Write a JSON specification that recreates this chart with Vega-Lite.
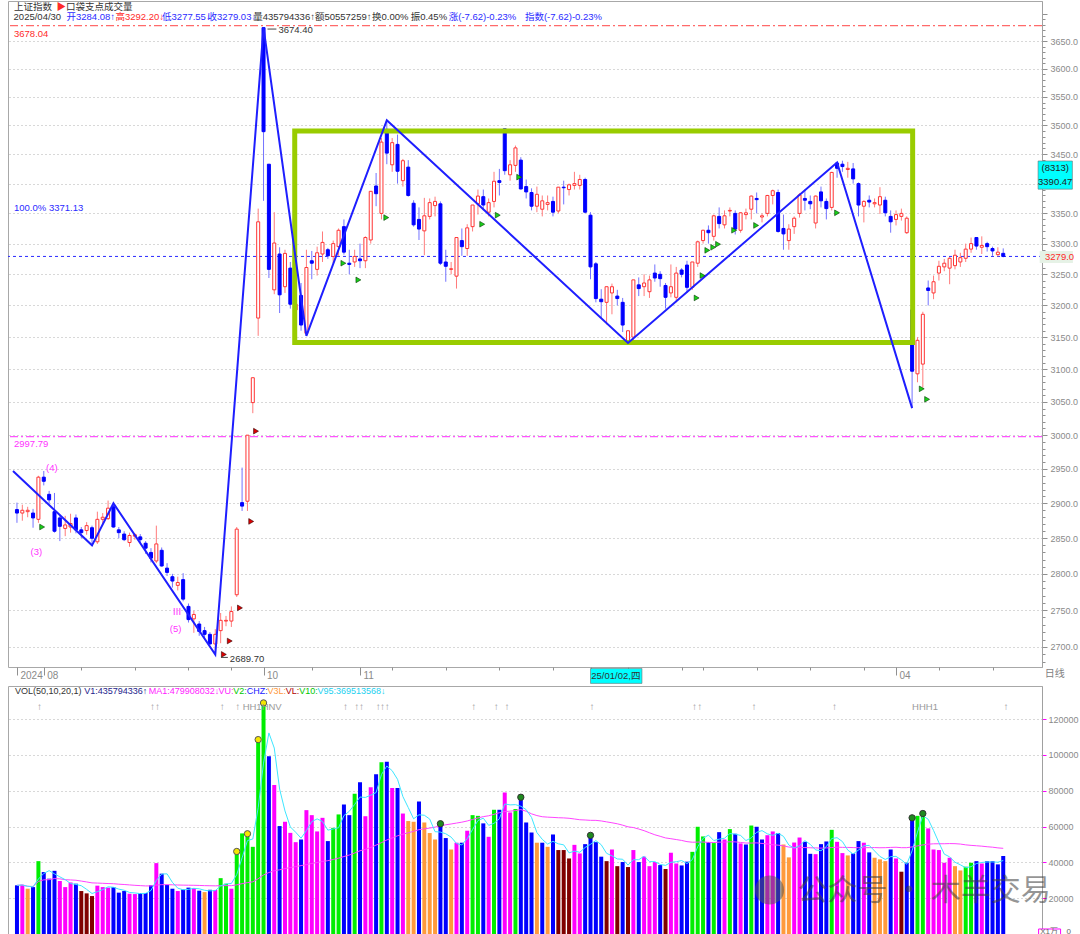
{
"$schema": "https://vega.github.io/schema/vega-lite/v6.json",
"padding": {"left": 6, "top": 0, "right": 0, "bottom": 0},
"background": "white",
"spacing": 0,
"config": {
  "view": {"stroke": "#a8a8a8", "strokeWidth": 1},
  "axis": {"title": null, "labelFont": "Liberation Sans", "labelFontSize": 9, "labelColor": "#8a8a8a", "domainColor": "#a0a0a0", "tickColor": "#909090"},
  "text": {"font": "'Liberation Sans', 'Noto Sans CJK SC'", "fontSize": 9.5, "align": "left", "baseline": "middle"}
},
"datasets": {
"c": [
{"i":0,"o":2891,"h":2901,"l":2872,"c":2886,"v":27200,"k":"b"},
{"i":1,"o":2886,"h":2898,"l":2875,"c":2890,"v":27500,"k":"m"},
{"i":2,"o":2888,"h":2895,"l":2880,"c":2890,"v":25300,"k":"o"},
{"i":3,"o":2886,"h":2892,"l":2865,"c":2879,"v":26200,"k":"b"},
{"i":4,"o":2877,"h":2940,"l":2872,"c":2938,"v":40700,"k":"g"},
{"i":5,"o":2938,"h":2947,"l":2926,"c":2932,"v":34600,"k":"b"},
{"i":6,"o":2913,"h":2918,"l":2900,"c":2905,"v":30900,"k":"b"},
{"i":7,"o":2888,"h":2915,"l":2858,"c":2860,"v":35300,"k":"b"},
{"i":8,"o":2879,"h":2884,"l":2846,"c":2867,"v":29600,"k":"m"},
{"i":9,"o":2864,"h":2882,"l":2853,"c":2869,"v":26200,"k":"m"},
{"i":10,"o":2866,"h":2885,"l":2858,"c":2871,"v":28800,"k":"m"},
{"i":11,"o":2879,"h":2884,"l":2857,"c":2862,"v":28100,"k":"b"},
{"i":12,"o":2862,"h":2866,"l":2850,"c":2858,"v":24000,"k":"r"},
{"i":13,"o":2861,"h":2873,"l":2855,"c":2868,"v":22700,"k":"r"},
{"i":14,"o":2865,"h":2868,"l":2840,"c":2850,"v":21200,"k":"r"},
{"i":15,"o":2845,"h":2888,"l":2842,"c":2877,"v":27000,"k":"m"},
{"i":16,"o":2877,"h":2886,"l":2870,"c":2880,"v":26200,"k":"m"},
{"i":17,"o":2878,"h":2904,"l":2876,"c":2893,"v":25900,"k":"m"},
{"i":18,"o":2895,"h":2900,"l":2865,"c":2866,"v":26200,"k":"b"},
{"i":19,"o":2862,"h":2866,"l":2850,"c":2858,"v":23100,"k":"b"},
{"i":20,"o":2856,"h":2860,"l":2846,"c":2848,"v":24000,"k":"b"},
{"i":21,"o":2844,"h":2858,"l":2838,"c":2854,"v":22500,"k":"m"},
{"i":22,"o":2853,"h":2857,"l":2848,"c":2855,"v":22300,"k":"m"},
{"i":23,"o":2852,"h":2856,"l":2843,"c":2848,"v":22900,"k":"b"},
{"i":24,"o":2843,"h":2846,"l":2828,"c":2836,"v":22900,"k":"b"},
{"i":25,"o":2830,"h":2836,"l":2816,"c":2822,"v":27200,"k":"b"},
{"i":26,"o":2818,"h":2868,"l":2815,"c":2842,"v":39600,"k":"m"},
{"i":27,"o":2833,"h":2837,"l":2810,"c":2811,"v":33700,"k":"b"},
{"i":28,"o":2808,"h":2815,"l":2797,"c":2802,"v":27500,"k":"b"},
{"i":29,"o":2796,"h":2800,"l":2781,"c":2790,"v":25300,"k":"b"},
{"i":30,"o":2784,"h":2796,"l":2777,"c":2788,"v":24000,"k":"m"},
{"i":31,"o":2792,"h":2801,"l":2762,"c":2765,"v":24900,"k":"b"},
{"i":32,"o":2755,"h":2759,"l":2733,"c":2737,"v":25900,"k":"b"},
{"i":33,"o":2738,"h":2749,"l":2719,"c":2744,"v":25700,"k":"m"},
{"i":34,"o":2731,"h":2735,"l":2715,"c":2721,"v":24200,"k":"b"},
{"i":35,"o":2722,"h":2727,"l":2711,"c":2717,"v":23400,"k":"o"},
{"i":36,"o":2717,"h":2720,"l":2703,"c":2704,"v":24700,"k":"b"},
{"i":37,"o":2704,"h":2724,"l":2689.7,"c":2717,"v":24600,"k":"m"},
{"i":38,"o":2722,"h":2746,"l":2705,"c":2736,"v":31200,"k":"g"},
{"i":39,"o":2735,"h":2742,"l":2728,"c":2736,"v":28100,"k":"g"},
{"i":40,"o":2735,"h":2755,"l":2727,"c":2748,"v":25300,"k":"m"},
{"i":41,"o":2771,"h":2866,"l":2768,"c":2863,"v":46100,"k":"g"},
{"i":42,"o":2901,"h":2952,"l":2889,"c":2896,"v":56200,"k":"g"},
{"i":43,"o":2903,"h":3000,"l":2889,"c":3000,"v":54300,"k":"g"},
{"i":44,"o":3049,"h":3087,"l":3033,"c":3087,"v":48700,"k":"g"},
{"i":45,"o":3180,"h":3358,"l":3152,"c":3336,"v":108600,"k":"g"},
{"i":46,"o":3674.4,"h":3674.4,"l":3371,"c":3489,"v":129100,"k":"g"},
{"i":47,"o":3433,"h":3433,"l":3244,"c":3258,"v":99300,"k":"b"},
{"i":48,"o":3225,"h":3352,"l":3218,"c":3301,"v":83300,"k":"m"},
{"i":49,"o":3283,"h":3294,"l":3188,"c":3217,"v":60300,"k":"b"},
{"i":50,"o":3230,"h":3290,"l":3220,"c":3284,"v":62700,"k":"m"},
{"i":51,"o":3260,"h":3270,"l":3195,"c":3202,"v":56500,"k":"m"},
{"i":52,"o":3193,"h":3223,"l":3181,"c":3202,"v":51300,"k":"m"},
{"i":53,"o":3216,"h":3236,"l":3160,"c":3169,"v":52800,"k":"b"},
{"i":54,"o":3156,"h":3290,"l":3152,"c":3261,"v":69200,"k":"m"},
{"i":55,"o":3272,"h":3288,"l":3242,"c":3268,"v":66400,"k":"m"},
{"i":56,"o":3258,"h":3295,"l":3248,"c":3285,"v":57300,"k":"m"},
{"i":57,"o":3283,"h":3320,"l":3270,"c":3302,"v":64900,"k":"m"},
{"i":58,"o":3290,"h":3293,"l":3275,"c":3280,"v":51900,"k":"b"},
{"i":59,"o":3279,"h":3305,"l":3268,"c":3300,"v":59300,"k":"g"},
{"i":60,"o":3295,"h":3325,"l":3280,"c":3322,"v":66800,"k":"g"},
{"i":61,"o":3328,"h":3340,"l":3282,"c":3286,"v":72400,"k":"b"},
{"i":62,"o":3268,"h":3290,"l":3250,"c":3266,"v":66400,"k":"b"},
{"i":63,"o":3270,"h":3290,"l":3262,"c":3279,"v":78300,"k":"g"},
{"i":64,"o":3275,"h":3300,"l":3260,"c":3272,"v":84800,"k":"b"},
{"i":65,"o":3272,"h":3312,"l":3260,"c":3310,"v":65800,"k":"m"},
{"i":66,"o":3306,"h":3387,"l":3300,"c":3387,"v":82000,"k":"m"},
{"i":67,"o":3396,"h":3418,"l":3362,"c":3383,"v":89300,"k":"b"},
{"i":68,"o":3350,"h":3478,"l":3340,"c":3471,"v":96000,"k":"g"},
{"i":69,"o":3493,"h":3509,"l":3433,"c":3452,"v":96200,"k":"b"},
{"i":70,"o":3432,"h":3478,"l":3420,"c":3470,"v":81500,"k":"m"},
{"i":71,"o":3467,"h":3484,"l":3400,"c":3421,"v":81500,"k":"b"},
{"i":72,"o":3405,"h":3442,"l":3395,"c":3439,"v":67300,"k":"m"},
{"i":73,"o":3428,"h":3440,"l":3378,"c":3380,"v":63100,"k":"o"},
{"i":74,"o":3367,"h":3372,"l":3328,"c":3331,"v":62700,"k":"o"},
{"i":75,"o":3340,"h":3360,"l":3306,"c":3324,"v":74000,"k":"b"},
{"i":76,"o":3321,"h":3376,"l":3281,"c":3346,"v":62300,"k":"o"},
{"i":77,"o":3345,"h":3375,"l":3340,"c":3368,"v":56400,"k":"o"},
{"i":78,"o":3363,"h":3378,"l":3345,"c":3370,"v":52800,"k":"o"},
{"i":79,"o":3366,"h":3370,"l":3265,"c":3268,"v":61600,"k":"b"},
{"i":80,"o":3270,"h":3290,"l":3238,"c":3263,"v":53600,"k":"b"},
{"i":81,"o":3258,"h":3270,"l":3250,"c":3259,"v":47200,"k":"o"},
{"i":82,"o":3247,"h":3310,"l":3227,"c":3310,"v":51000,"k":"m"},
{"i":83,"o":3305,"h":3325,"l":3280,"c":3295,"v":51000,"k":"b"},
{"i":84,"o":3292,"h":3332,"l":3280,"c":3326,"v":57700,"k":"m"},
{"i":85,"o":3328,"h":3364,"l":3320,"c":3364,"v":66400,"k":"g"},
{"i":86,"o":3366,"h":3390,"l":3348,"c":3379,"v":66000,"k":"g"},
{"i":87,"o":3378,"h":3390,"l":3355,"c":3364,"v":61800,"k":"b"},
{"i":88,"o":3352,"h":3375,"l":3345,"c":3368,"v":54300,"k":"m"},
{"i":89,"o":3370,"h":3420,"l":3360,"c":3404,"v":69400,"k":"g"},
{"i":90,"o":3405,"h":3425,"l":3380,"c":3402,"v":69400,"k":"b"},
{"i":91,"o":3494,"h":3494,"l":3415,"c":3422,"v":79100,"k":"m"},
{"i":92,"o":3415,"h":3440,"l":3405,"c":3432,"v":67900,"k":"m"},
{"i":93,"o":3431,"h":3465,"l":3420,"c":3461,"v":69800,"k":"g"},
{"i":94,"o":3440,"h":3445,"l":3390,"c":3391,"v":76400,"k":"b"},
{"i":95,"o":3395,"h":3407,"l":3375,"c":3386,"v":62300,"k":"b"},
{"i":96,"o":3385,"h":3392,"l":3355,"c":3362,"v":56700,"k":"b"},
{"i":97,"o":3362,"h":3395,"l":3352,"c":3382,"v":51000,"k":"o"},
{"i":98,"o":3357,"h":3380,"l":3345,"c":3371,"v":51000,"k":"b"},
{"i":99,"o":3365,"h":3380,"l":3355,"c":3368,"v":48700,"k":"o"},
{"i":100,"o":3370,"h":3378,"l":3345,"c":3352,"v":55600,"k":"b"},
{"i":101,"o":3354,"h":3394,"l":3350,"c":3394,"v":46900,"k":"r"},
{"i":102,"o":3394,"h":3405,"l":3365,"c":3393,"v":46900,"k":"r"},
{"i":103,"o":3390,"h":3400,"l":3380,"c":3398,"v":42200,"k":"r"},
{"i":104,"o":3397,"h":3420,"l":3390,"c":3400,"v":49800,"k":"m"},
{"i":105,"o":3397,"h":3415,"l":3390,"c":3407,"v":45000,"k":"m"},
{"i":106,"o":3407,"h":3410,"l":3350,"c":3352,"v":50200,"k":"b"},
{"i":107,"o":3347,"h":3352,"l":3242,"c":3262,"v":55100,"k":"b"},
{"i":108,"o":3267,"h":3270,"l":3205,"c":3211,"v":51300,"k":"b"},
{"i":109,"o":3210,"h":3226,"l":3180,"c":3206,"v":43200,"k":"b"},
{"i":110,"o":3205,"h":3230,"l":3170,"c":3230,"v":40700,"k":"r"},
{"i":111,"o":3220,"h":3235,"l":3186,"c":3230,"v":47200,"k":"m"},
{"i":112,"o":3215,"h":3225,"l":3200,"c":3211,"v":37900,"k":"r"},
{"i":113,"o":3205,"h":3212,"l":3158,"c":3169,"v":40200,"k":"b"},
{"i":114,"o":3141,"h":3160,"l":3140.98,"c":3160,"v":37400,"k":"r"},
{"i":115,"o":3150,"h":3241,"l":3145,"c":3241,"v":46900,"k":"m"},
{"i":116,"o":3233,"h":3245,"l":3215,"c":3227,"v":40200,"k":"b"},
{"i":117,"o":3230,"h":3250,"l":3215,"c":3236,"v":43200,"k":"m"},
{"i":118,"o":3222,"h":3248,"l":3212,"c":3241,"v":37900,"k":"m"},
{"i":119,"o":3252,"h":3266,"l":3238,"c":3244,"v":40200,"k":"m"},
{"i":120,"o":3250,"h":3255,"l":3230,"c":3243,"v":38500,"k":"b"},
{"i":121,"o":3232,"h":3236,"l":3195,"c":3213,"v":36300,"k":"r"},
{"i":122,"o":3220,"h":3266,"l":3213,"c":3230,"v":45400,"k":"m"},
{"i":123,"o":3213,"h":3262,"l":3205,"c":3252,"v":39400,"k":"m"},
{"i":124,"o":3257,"h":3260,"l":3245,"c":3250,"v":38300,"k":"b"},
{"i":125,"o":3265,"h":3272,"l":3220,"c":3229,"v":40400,"k":"b"},
{"i":126,"o":3229,"h":3270,"l":3225,"c":3270,"v":45900,"k":"g"},
{"i":127,"o":3268,"h":3305,"l":3262,"c":3303,"v":59900,"k":"g"},
{"i":128,"o":3305,"h":3323,"l":3300,"c":3322,"v":54500,"k":"g"},
{"i":129,"o":3322,"h":3330,"l":3300,"c":3318,"v":51300,"k":"b"},
{"i":130,"o":3312,"h":3348,"l":3305,"c":3346,"v":50800,"k":"g"},
{"i":131,"o":3345,"h":3360,"l":3325,"c":3333,"v":56900,"k":"b"},
{"i":132,"o":3331,"h":3355,"l":3325,"c":3346,"v":52800,"k":"m"},
{"i":133,"o":3354,"h":3360,"l":3345,"c":3355,"v":58600,"k":"g"},
{"i":134,"o":3350,"h":3355,"l":3315,"c":3324,"v":56000,"k":"b"},
{"i":135,"o":3322,"h":3352,"l":3318,"c":3351,"v":50600,"k":"m"},
{"i":136,"o":3348,"h":3358,"l":3340,"c":3351,"v":50000,"k":"b"},
{"i":137,"o":3357,"h":3380,"l":3340,"c":3379,"v":60600,"k":"g"},
{"i":138,"o":3375,"h":3385,"l":3350,"c":3373,"v":59900,"k":"b"},
{"i":139,"o":3344,"h":3350,"l":3335,"c":3346,"v":52800,"k":"b"},
{"i":140,"o":3350,"h":3381,"l":3345,"c":3380,"v":55200,"k":"m"},
{"i":141,"o":3380,"h":3390,"l":3365,"c":3388,"v":57300,"k":"m"},
{"i":142,"o":3385,"h":3390,"l":3318,"c":3320,"v":56400,"k":"b"},
{"i":143,"o":3325,"h":3348,"l":3290,"c":3316,"v":50000,"k":"o"},
{"i":144,"o":3305,"h":3332,"l":3290,"c":3324,"v":42800,"k":"o"},
{"i":145,"o":3328,"h":3345,"l":3316,"c":3342,"v":51100,"k":"m"},
{"i":146,"o":3350,"h":3384,"l":3343,"c":3381,"v":53900,"k":"m"},
{"i":147,"o":3375,"h":3390,"l":3355,"c":3372,"v":51500,"k":"b"},
{"i":148,"o":3370,"h":3380,"l":3357,"c":3366,"v":44800,"k":"b"},
{"i":149,"o":3334,"h":3380,"l":3325,"c":3379,"v":44600,"k":"m"},
{"i":150,"o":3386,"h":3395,"l":3360,"c":3371,"v":50200,"k":"b"},
{"i":151,"o":3370,"h":3375,"l":3340,"c":3358,"v":51700,"k":"b"},
{"i":152,"o":3360,"h":3420,"l":3355,"c":3419,"v":58200,"k":"g"},
{"i":153,"o":3435,"h":3436,"l":3410,"c":3426,"v":51500,"k":"m"},
{"i":154,"o":3433,"h":3439,"l":3420,"c":3429,"v":45200,"k":"m"},
{"i":155,"o":3424,"h":3437,"l":3410,"c":3426,"v":43900,"k":"o"},
{"i":156,"o":3425,"h":3435,"l":3400,"c":3408,"v":45000,"k":"b"},
{"i":157,"o":3400,"h":3402,"l":3345,"c":3364,"v":51900,"k":"b"},
{"i":158,"o":3362,"h":3372,"l":3335,"c":3370,"v":51000,"k":"m"},
{"i":159,"o":3372,"h":3380,"l":3360,"c":3369,"v":45600,"k":"b"},
{"i":160,"o":3366,"h":3375,"l":3360,"c":3368,"v":42600,"k":"o"},
{"i":161,"o":3364,"h":3394,"l":3349,"c":3378,"v":41700,"k":"o"},
{"i":162,"o":3372,"h":3378,"l":3345,"c":3351,"v":40700,"k":"o"},
{"i":163,"o":3345,"h":3355,"l":3318,"c":3336,"v":47200,"k":"b"},
{"i":164,"o":3340,"h":3355,"l":3330,"c":3348,"v":42200,"k":"m"},
{"i":165,"o":3345,"h":3358,"l":3338,"c":3350,"v":34800,"k":"r"},
{"i":166,"o":3318,"h":3345,"l":3316,"c":3342,"v":39800,"k":"b"},
{"i":167,"o":3193,"h":3193,"l":3040.69,"c":3097,"v":64900,"k":"b"},
{"i":168,"o":3093,"h":3150,"l":3080,"c":3145,"v":66000,"k":"g"},
{"i":169,"o":3108,"h":3190,"l":3072,"c":3186,"v":67300,"k":"g"},
{"i":170,"o":3228,"h":3240,"l":3200,"c":3224,"v":59000,"k":"m"},
{"i":171,"o":3220,"h":3248,"l":3210,"c":3238,"v":47200,"k":"m"},
{"i":172,"o":3252,"h":3272,"l":3240,"c":3263,"v":46900,"k":"m"},
{"i":173,"o":3262,"h":3275,"l":3255,"c":3268,"v":39800,"k":"m"},
{"i":174,"o":3260,"h":3278,"l":3234,"c":3276,"v":42600,"k":"m"},
{"i":175,"o":3264,"h":3290,"l":3258,"c":3281,"v":37900,"k":"o"},
{"i":176,"o":3270,"h":3285,"l":3262,"c":3277,"v":35500,"k":"o"},
{"i":177,"o":3276,"h":3300,"l":3270,"c":3291,"v":37600,"k":"g"},
{"i":178,"o":3291,"h":3310,"l":3285,"c":3300,"v":39800,"k":"g"},
{"i":179,"o":3310,"h":3310,"l":3290,"c":3296,"v":40700,"k":"b"},
{"i":180,"o":3294,"h":3312,"l":3283,"c":3297,"v":39400,"k":"m"},
{"i":181,"o":3300,"h":3303,"l":3287,"c":3295,"v":40700,"k":"b"},
{"i":182,"o":3292,"h":3295,"l":3280,"c":3288,"v":40700,"k":"b"},
{"i":183,"o":3282,"h":3294,"l":3279,"c":3286,"v":38900,"k":"b"},
{"i":184,"o":3284.08,"h":3292.2,"l":3277.55,"c":3279.03,"v":43580,"k":"b"}
]
},
"resolve": {"scale": {"x": "independent", "y": "independent", "color": "independent"}, "axis": {"x": "independent", "y": "independent"}},
"vconcat": [
{
 "width": 1034, "height": 666,
 "layer": [
  {"data": {"values": [{"p": 3678.04}]}, "mark": {"type": "rule", "color": "#ff6a6a", "strokeWidth": 1.2, "strokeDash": [8, 3, 2, 3]}, "encoding": {"y": {"field": "p", "type": "quantitative"}}},
  {"data": {"values": [{"p": 2997.79}]}, "mark": {"type": "rule", "color": "#ff55ff", "strokeWidth": 1.2, "strokeDash": [8, 3, 2, 3]}, "encoding": {"y": {"field": "p", "type": "quantitative"}}},
  {"data": {"values": [{"p": 3279.03}]}, "mark": {"type": "rule", "color": "#2a2aff", "strokeWidth": 1, "strokeDash": [3, 3]}, "encoding": {"y": {"field": "p", "type": "quantitative"}}},
  {"data": {"name": "c"},
   "mark": {"type": "rule", "strokeWidth": 1},
   "encoding": {
    "x": {"field": "i", "type": "quantitative", "scale": {"domain": [-0.74, 190.3], "nice": false, "zero": false},
      "axis": {"orient": "bottom", "grid": false, "domain": false,
        "values": [0,3,5,7,12,17,22,27,32,37,40,45,46,50,55,60,64,65,70,75,80,85,90,95,100,105,107,109,114,119,124,125,128,133,138,143,148,153,158,163,164,167,172,177,182,185],
        "labelExpr": "datum.value === 0 ? '2024' : datum.value === 5 ? '08' : datum.value === 27 ? '09' : datum.value === 46 ? '10' : datum.value === 64 ? '11' : datum.value === 85 ? '12' : datum.value === 125 ? '02' : datum.value === 143 ? '03' : datum.value === 164 ? '04' : datum.value === 185 ? '05' : ''",
        "tickSize": {"condition": {"test": "indexof([0,5,27,46,64,85,107,125,143,164,185], datum.value) >= 0", "value": 8}, "value": 3},
        "labelAlign": "left", "labelBaseline": "middle", "labelPadding": 0, "labelOffset": 3, "labelOverlap": false, "labelFlush": false,
        "labelColor": "#8a8a8a", "labelFontSize": 10, "minExtent": 17, "maxExtent": 17, "title": null}},
    "y": {"field": "l", "type": "quantitative", "scale": {"type": "log", "domain": [2673.2, 3723.4], "nice": false, "zero": false},
      "axis": {"orient": "right", "title": null,
        "values": [2680,2690,2700,2710,2720,2730,2740,2750,2760,2770,2780,2790,2800,2810,2820,2830,2840,2850,2860,2870,2880,2890,2900,2910,2920,2930,2940,2950,2960,2970,2980,2990,3000,3010,3020,3030,3040,3050,3060,3070,3080,3090,3100,3110,3120,3130,3140,3150,3160,3170,3180,3190,3200,3210,3220,3230,3240,3250,3260,3270,3280,3290,3300,3310,3320,3330,3340,3350,3360,3370,3380,3390,3400,3410,3420,3430,3440,3450,3460,3470,3480,3490,3500,3510,3520,3530,3540,3550,3560,3570,3580,3590,3600,3610,3620,3630,3640,3650,3660,3670,3680,3690,3700],
        "labelExpr": "datum.value % 50 === 0 && datum.value <= 3650 && datum.value !== 3400 ? format(datum.value, '.1f') : ''",
        "tickSize": {"condition": {"test": "datum.value % 50 === 0", "value": 5}, "value": 3},
        "grid": true, "gridColor": "#b0b0b0", "gridDash": [1, 3],
        "gridOpacity": {"condition": {"test": "datum.value % 50 === 0 && datum.value <= 3650", "value": 1}, "value": 0},
        "labelPadding": 3, "labelOverlap": false, "labelFlush": false, "labelBaseline": "middle", "labelColor": "#8a8a8a", "labelFontSize": 9}},
    "y2": {"field": "h"},
    "color": {"condition": {"test": "datum.c >= datum.o", "value": "#ff7b7b"}, "value": "#7373ff"}
   }},
  {"data": {"name": "c"},
   "mark": {"type": "bar", "size": 3, "strokeWidth": 1},
   "encoding": {
    "x": {"field": "i", "type": "quantitative"},
    "y": {"field": "o", "type": "quantitative"},
    "y2": {"field": "c"},
    "fill": {"condition": {"test": "datum.c >= datum.o", "value": "#ffffff"}, "value": "#0000ff"},
    "stroke": {"condition": {"test": "datum.c >= datum.o", "value": "#ff3434"}, "value": "#0000ff"}
   }},
  {"data": {"values": [{"i": 51.82, "i2": 167.1, "p": 3141.5, "p2": 3490}]},
   "mark": {"type": "rect", "fillOpacity": 0, "stroke": "#99cc00", "strokeWidth": 5},
   "encoding": {"x": {"field": "i", "type": "quantitative"}, "x2": {"field": "i2"}, "y": {"field": "p", "type": "quantitative"}, "y2": {"field": "p2"}}},
  {"data": {"values": [
    {"i": -0.74, "p": 2947}, {"i": 14, "p": 2840}, {"i": 18, "p": 2900}, {"i": 37, "p": 2689.7}, {"i": 46, "p": 3674.4},
    {"i": 54, "p": 3152}, {"i": 69, "p": 3509}, {"i": 114, "p": 3140.98}, {"i": 153, "p": 3436}, {"i": 167, "p": 3040.69}]},
   "mark": {"type": "line", "color": "#1e1eff", "strokeWidth": 2},
   "encoding": {"x": {"field": "i", "type": "quantitative"}, "y": {"field": "p", "type": "quantitative"}}},
  {"data": {"values": [
    {"i": 4.7, "p": 2866}, {"i": 60.9, "p": 3268}, {"i": 63.7, "p": 3241}, {"i": 68.9, "p": 3343}, {"i": 86.8, "p": 3332},
    {"i": 89.7, "p": 3347}, {"i": 93.7, "p": 3411}, {"i": 126.8, "p": 3212}, {"i": 127.9, "p": 3248}, {"i": 128.8, "p": 3289},
    {"i": 129.9, "p": 3294}, {"i": 130.8, "p": 3299}, {"i": 133.8, "p": 3322}, {"i": 137.9, "p": 3330}, {"i": 153, "p": 3351},
    {"i": 168.8, "p": 3070}, {"i": 169.8, "p": 3054}]},
   "mark": {"type": "point", "shape": "triangle-right", "size": 32, "filled": true, "fill": "#18d018", "stroke": "#063806", "strokeWidth": 0.6, "opacity": 1},
   "encoding": {"x": {"field": "i", "type": "quantitative"}, "y": {"field": "p", "type": "quantitative"}}},
  {"data": {"values": [
    {"i": 38.6, "p": 2690}, {"i": 39.7, "p": 2708}, {"i": 41.6, "p": 2753}, {"i": 43.7, "p": 2874}, {"i": 44.6, "p": 3006}]},
   "mark": {"type": "point", "shape": "triangle-right", "size": 32, "filled": true, "fill": "#e00000", "stroke": "#300000", "strokeWidth": 0.6, "opacity": 1},
   "encoding": {"x": {"field": "i", "type": "quantitative"}, "y": {"field": "p", "type": "quantitative"}}},
  {"data": {"values": [{"i": 46.74, "i2": 48.4, "p": 3671.8}, {"i": 38.06, "i2": 39.35, "p": 2686}]},
   "mark": {"type": "rule", "color": "#444444", "strokeWidth": 1},
   "encoding": {"x": {"field": "i", "type": "quantitative"}, "x2": {"field": "i2"}, "y": {"field": "p", "type": "quantitative"}}},
  {"data": {"values": [{"i": 190.8, "i2": 197.0, "p": 3288, "p2": 3268.4}]},
   "mark": {"type": "rect", "fill": "#e6f2e6"},
   "encoding": {"x": {"field": "i", "type": "quantitative"}, "x2": {"field": "i2"}, "y": {"field": "p", "type": "quantitative"}, "y2": {"field": "p2"}}},
  {"data": {"values": [{"i": 190.5, "i2": 196.9, "p": 3438.5, "p2": 3390.6}, {"i": 107, "i2": 116.6, "p": 2671.3, "p2": 2651.5}]},
   "mark": {"type": "rect", "fill": "#00ffff", "stroke": "#707070", "strokeWidth": 0.6},
   "encoding": {"x": {"field": "i", "type": "quantitative"}, "x2": {"field": "i2"}, "y": {"field": "p", "type": "quantitative"}, "y2": {"field": "p2"}}},
  {"data": {"values": [
    {"i": -0.55, "p": 3712.3, "t": "上证指数"}, {"i": 9.14, "p": 3712.3, "t": "口袋支点成交量"},
    {"i": -0.63, "p": 3693.8, "t": "2025/04/30"}, {"i": 44.06, "p": 3693.8, "t": "量435794336↑额50557259↑"},
    {"i": 66.23, "p": 3693.8, "t": "换0.00%"}, {"i": 73.45, "p": 3693.8, "t": "振0.45%"},
    {"i": 48.77, "p": 3670, "t": "3674.40"}, {"i": 39.72, "p": 2683.9, "t": "2689.70"},
    {"i": 107.15, "p": 2661.4, "t": "25/01/02,四"}]},
   "mark": {"type": "text", "color": "#333333"},
   "encoding": {"x": {"field": "i", "type": "quantitative"}, "y": {"field": "p", "type": "quantitative"}, "text": {"field": "t"}}},
  {"data": {"values": [
    {"i": 9.24, "p": 3693.8, "t": "开3284.08↑"}, {"i": 27.07, "p": 3693.8, "t": "低3277.55↓"}, {"i": 35.56, "p": 3693.8, "t": "收3279.03↓"},
    {"i": 80.55, "p": 3693.8, "t": "涨(-7.62)-0.23%"}, {"i": 94.77, "p": 3693.8, "t": "指数(-7.62)-0.23%"},
    {"i": -0.55, "p": 3359, "t": "100.0%  3371.13"}]},
   "mark": {"type": "text", "color": "#2b2bff"},
   "encoding": {"x": {"field": "i", "type": "quantitative"}, "y": {"field": "p", "type": "quantitative"}, "text": {"field": "t"}}},
  {"data": {"values": [
    {"i": 18.38, "p": 3693.8, "t": "高3292.20↓"}, {"i": 7.39, "p": 3712.3, "t": "▶"},
    {"i": -0.55, "p": 3662.7, "t": "3678.04"}, {"i": 191.8, "p": 3278.2, "t": "3279.0"}]},
   "mark": {"type": "text", "color": "#ff2a2a"},
   "encoding": {"x": {"field": "i", "type": "quantitative"}, "y": {"field": "p", "type": "quantitative"}, "text": {"field": "t"}}},
  {"data": {"values": [
    {"i": -0.55, "p": 2986.7, "t": "2997.79"}, {"i": 5.41, "p": 2952, "t": "(4)"}, {"i": 2.53, "p": 2830, "t": "(3)"},
    {"i": 28.97, "p": 2748, "t": "Ⅲ"}, {"i": 28.5, "p": 2724, "t": "(5)"}]},
   "mark": {"type": "text", "color": "#ff33ff"},
   "encoding": {"x": {"field": "i", "type": "quantitative"}, "y": {"field": "p", "type": "quantitative"}, "text": {"field": "t"}}},
  {"data": {"values": [{"i": 193.6, "p": 2663.4, "t": "日线"}]},
   "mark": {"type": "text", "color": "#808080", "align": "center", "fontSize": 10},
   "encoding": {"x": {"field": "i", "type": "quantitative"}, "y": {"field": "p", "type": "quantitative"}, "text": {"field": "t"}}},
  {"data": {"values": [{"i": 193.7, "p": 3426.2, "t": "(8313)"}, {"i": 193.7, "p": 3402.6, "t": "3390.47"}]},
   "mark": {"type": "text", "color": "#222222", "align": "center", "fontSize": 9.5},
   "encoding": {"x": {"field": "i", "type": "quantitative"}, "y": {"field": "p", "type": "quantitative"}, "text": {"field": "t"}}}
 ]
},
{
 "width": 1034, "height": 248,
 "layer": [
  {"data": {"name": "c"},
   "mark": {"type": "bar", "size": 4},
   "encoding": {
    "x": {"field": "i", "type": "quantitative", "scale": {"domain": [-0.74, 190.3], "nice": false, "zero": false}, "axis": null},
    "y": {"field": "v", "type": "quantitative", "scale": {"domain": [0, 138547], "nice": false},
      "axis": {"orient": "right", "title": null,
        "values": [0,5000,10000,15000,20000,25000,30000,35000,40000,45000,50000,55000,60000,65000,70000,75000,80000,85000,90000,95000,100000,105000,110000,115000,120000,125000,130000,135000],
        "labelExpr": "datum.value % 20000 === 0 && datum.value > 0 ? format(datum.value, 'd') : ''",
        "tickSize": {"condition": {"test": "datum.value % 20000 === 0", "value": 4}, "value": 2},
        "tickColor": "#ff00ff",
        "grid": true, "gridColor": "#b0b0b0", "gridDash": [1, 3],
        "gridOpacity": {"condition": {"test": "datum.value % 20000 === 0 && datum.value > 0", "value": 1}, "value": 0},
        "labelPadding": 2, "labelOverlap": false, "labelFlush": false, "labelBaseline": "middle", "labelColor": "#8a8a8a", "labelFontSize": 9}},
    "color": {"field": "k", "type": "nominal", "legend": null,
      "scale": {"domain": ["b", "m", "o", "g", "r"], "range": ["#0000ff", "#ff00ff", "#ff9a3c", "#00ee00", "#800000"]}}
   }},
  {"data": {"name": "c"},
   "transform": [{"window": [{"op": "mean", "field": "v", "as": "m50"}], "frame": [-49, 0], "sort": [{"field": "i"}]}],
   "mark": {"type": "line", "color": "#ff44ff", "strokeWidth": 1},
   "encoding": {"x": {"field": "i", "type": "quantitative"}, "y": {"field": "m50", "type": "quantitative"}}},
  {"data": {"name": "c"},
   "transform": [{"window": [{"op": "mean", "field": "v", "as": "m3"}], "frame": [-2, 0], "sort": [{"field": "i"}]}],
   "mark": {"type": "line", "color": "#3ee6ff", "strokeWidth": 1},
   "encoding": {"x": {"field": "i", "type": "quantitative"}, "y": {"field": "m3", "type": "quantitative"}}},
  {"data": {"values": [{"i": 41, "v": 46100}, {"i": 43, "v": 56000}, {"i": 45, "v": 108600}, {"i": 46, "v": 129100}]},
   "mark": {"type": "point", "shape": "circle", "size": 40, "filled": true, "fill": "#f5e600", "stroke": "#555555", "strokeWidth": 1, "opacity": 1},
   "encoding": {"x": {"field": "i", "type": "quantitative"}, "y": {"field": "v", "type": "quantitative"}}},
  {"data": {"values": [{"i": 79, "v": 61600}, {"i": 94, "v": 76400}, {"i": 107, "v": 55100}, {"i": 167, "v": 64900}, {"i": 169, "v": 67300}]},
   "mark": {"type": "point", "shape": "circle", "size": 40, "filled": true, "fill": "#1f8a1f", "stroke": "#333333", "strokeWidth": 1, "opacity": 1},
   "encoding": {"x": {"field": "i", "type": "quantitative"}, "y": {"field": "v", "type": "quantitative"}}},
  {"data": {"values": [{"i": 140.4, "v": 24600}]},
   "mark": {"type": "point", "shape": "circle", "size": 850, "filled": true, "fill": "#555555", "opacity": 0.55},
   "encoding": {"x": {"field": "i", "type": "quantitative"}, "y": {"field": "v", "type": "quantitative"}}},
  {"data": {"values": [{"i": 145.6, "v": 24000, "t": "公众号 · 木羊交易"}]},
   "mark": {"type": "text", "font": "Noto Sans CJK SC", "fontSize": 30, "color": "#404040", "opacity": 0.55},
   "encoding": {"x": {"field": "i", "type": "quantitative"}, "y": {"field": "v", "type": "quantitative"}, "text": {"field": "t"}}},
  {"data": {"values": [
    {"i": 4.2}, {"i": 25.3}, {"i": 26.2}, {"i": 38.3}, {"i": 41.2}, {"i": 61.3}, {"i": 63.4}, {"i": 64.3}, {"i": 67.4}, {"i": 68.2},
    {"i": 69.1}, {"i": 85.2}, {"i": 89.4}, {"i": 91.4}, {"i": 107.3}, {"i": 126.4}, {"i": 127.4}, {"i": 137.5}, {"i": 152.5}, {"i": 184.5}]},
   "mark": {"type": "text", "text": "↑", "align": "center", "fontSize": 10, "color": "#9a9a9a"},
   "encoding": {"x": {"field": "i", "type": "quantitative"}, "y": {"datum": 126800, "type": "quantitative"}}},
  {"data": {"values": [{"i": 42.1, "t": "HH1HNV"}, {"i": 167, "t": "HHH1"}]},
   "mark": {"type": "text", "fontSize": 9.5, "color": "#9a9a9a"},
   "encoding": {"x": {"field": "i", "type": "quantitative"}, "y": {"datum": 126800, "type": "quantitative"}, "text": {"field": "t"}}},
  {"data": {"values": [{"i": -0.37, "t": "VOL(50,10,20,1)"}]},
   "mark": {"type": "text", "fontSize": 9, "color": "#333333"},
   "encoding": {"x": {"field": "i", "type": "quantitative"}, "y": {"datum": 135754, "type": "quantitative"}, "text": {"field": "t"}}},
  {"data": {"values": [{"i": 12.56, "t": "V1:435794336↑"}]},
   "mark": {"type": "text", "fontSize": 9, "color": "#23238c"},
   "encoding": {"x": {"field": "i", "type": "quantitative"}, "y": {"datum": 135754, "type": "quantitative"}, "text": {"field": "t"}}},
  {"data": {"values": [{"i": 24.57, "t": "MA1:479908032↓"}, {"i": 37.59, "t": "VU:"}]},
   "mark": {"type": "text", "fontSize": 9, "color": "#ff22ff"},
   "encoding": {"x": {"field": "i", "type": "quantitative"}, "y": {"datum": 135754, "type": "quantitative"}, "text": {"field": "t"}}},
  {"data": {"values": [{"i": 40.37, "t": "V2:"}, {"i": 52.65, "t": "V10:"}]},
   "mark": {"type": "text", "fontSize": 9, "color": "#00c800"},
   "encoding": {"x": {"field": "i", "type": "quantitative"}, "y": {"datum": 135754, "type": "quantitative"}, "text": {"field": "t"}}},
  {"data": {"values": [{"i": 42.86, "t": "CHZ:"}]},
   "mark": {"type": "text", "fontSize": 9, "color": "#2020ff"},
   "encoding": {"x": {"field": "i", "type": "quantitative"}, "y": {"datum": 135754, "type": "quantitative"}, "text": {"field": "t"}}},
  {"data": {"values": [{"i": 46.74, "t": "V3L:"}]},
   "mark": {"type": "text", "fontSize": 9, "color": "#ff9a3c"},
   "encoding": {"x": {"field": "i", "type": "quantitative"}, "y": {"datum": 135754, "type": "quantitative"}, "text": {"field": "t"}}},
  {"data": {"values": [{"i": 50.16, "t": "VL:"}]},
   "mark": {"type": "text", "fontSize": 9, "color": "#b00000"},
   "encoding": {"x": {"field": "i", "type": "quantitative"}, "y": {"datum": 135754, "type": "quantitative"}, "text": {"field": "t"}}},
  {"data": {"values": [{"i": 56.07, "t": "V95:369513568↓"}]},
   "mark": {"type": "text", "fontSize": 9, "color": "#22d0f0"},
   "encoding": {"x": {"field": "i", "type": "quantitative"}, "y": {"datum": 135754, "type": "quantitative"}, "text": {"field": "t"}}},
  {"data": {"values": [{"i": 190.6, "i2": 194.7, "v": 2800, "v2": -700}]},
   "mark": {"type": "rect", "fill": "#ffffff", "stroke": "#ff00ff", "strokeWidth": 1},
   "encoding": {"x": {"field": "i", "type": "quantitative"}, "x2": {"field": "i2"}, "y": {"field": "v", "type": "quantitative"}, "y2": {"field": "v2"}}},
  {"data": {"values": [{"i": 190.9, "v": 1050, "t": "X1万"}, {"i": 195.8, "v": 1050, "t": "0"}]},
   "mark": {"type": "text", "fontSize": 8, "color": "#666666"},
   "encoding": {"x": {"field": "i", "type": "quantitative"}, "y": {"field": "v", "type": "quantitative"}, "text": {"field": "t"}}}
 ]
}
]
}
